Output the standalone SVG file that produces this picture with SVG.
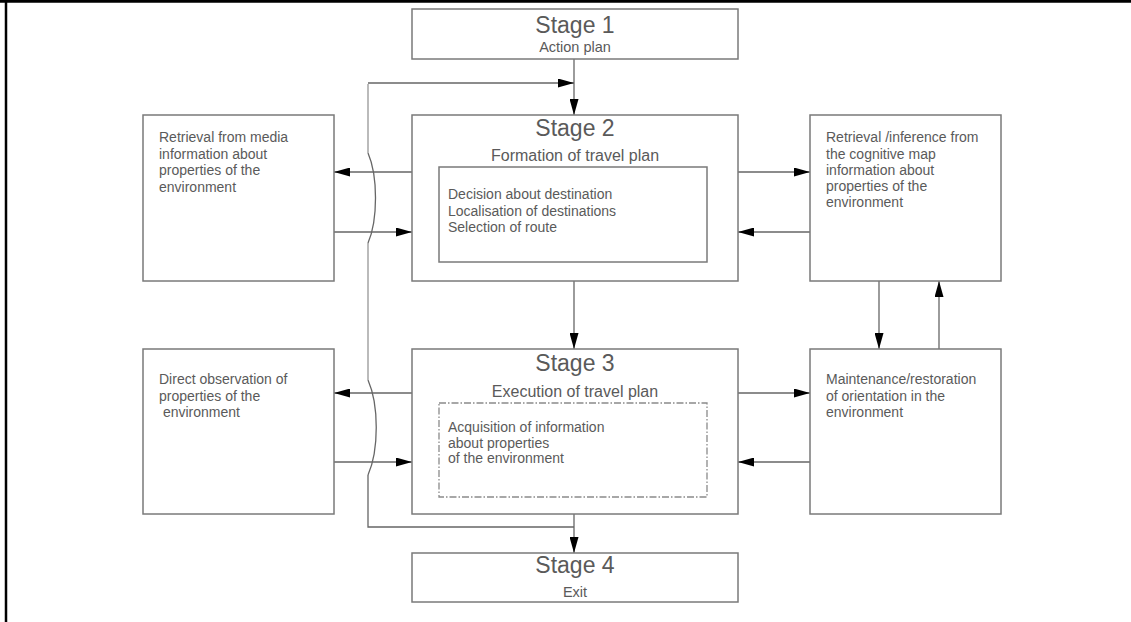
<svg xmlns="http://www.w3.org/2000/svg" width="1131" height="622" viewBox="0 0 1131 622">
<style>
.box{fill:#fff;stroke:#7a7a7a;stroke-width:1.5}
.inner{fill:none;stroke:#7a7a7a;stroke-width:1.5}
.dash{fill:none;stroke:#8a8a8a;stroke-width:1.3;stroke-dasharray:7,2,1.5,2}
.ln{fill:none;stroke:#666;stroke-width:1.3}
.lt{fill:none;stroke:#bbb;stroke-width:2}
.t{font-family:"Liberation Sans",Arial,sans-serif;fill:#5a5a5a}
.h{font-size:23px;text-anchor:middle}
.s{font-size:16px;text-anchor:middle}
.s2{font-size:14.5px;text-anchor:middle}
.b{font-size:14px}
</style>
<defs>
<marker id="ah" markerUnits="userSpaceOnUse" viewBox="0 0 16 9" refX="16" refY="4.5" markerWidth="16" markerHeight="9" orient="auto">
<path d="M0,0 L16,4.5 L0,9 z" fill="#000"/>
</marker>
</defs>
<g id="frame">
<path d="M0,1.3 H1131" stroke="#000" stroke-width="2.7"/>
<path d="M6,0 V622" stroke="#000" stroke-width="2.5"/>
</g>
<g id="connectors">
<path class="ln" d="M574,59 V115" marker-end="url(#ah)"/>
<path class="ln" d="M574,527 H368 V475"/>
<path class="ln" d="M368,475 C379,450 379,405 368,380"/>
<path class="lt" d="M368,380 V243"/>
<path class="ln" d="M368,243 C378,220 378,176 368,153"/>
<path class="lt" d="M368,153 V84"/>
<path class="ln" d="M368,83 H574" marker-end="url(#ah)"/>
<path class="ln" d="M412,172 H334" marker-end="url(#ah)"/>
<path class="ln" d="M334,232 H412" marker-end="url(#ah)"/>
<path class="ln" d="M738,172 H810" marker-end="url(#ah)"/>
<path class="ln" d="M810,232 H738" marker-end="url(#ah)"/>
<path class="ln" d="M574,281 V349" marker-end="url(#ah)"/>
<path class="ln" d="M412,393 H334" marker-end="url(#ah)"/>
<path class="ln" d="M334,462 H412" marker-end="url(#ah)"/>
<path class="ln" d="M738,393 H810" marker-end="url(#ah)"/>
<path class="ln" d="M810,462 H738" marker-end="url(#ah)"/>
<path class="ln" d="M879,281 V349" marker-end="url(#ah)"/>
<path class="ln" d="M939,349 V281" marker-end="url(#ah)"/>
<path class="ln" d="M574,514 V553" marker-end="url(#ah)"/>
</g>
<g id="stage1">
<rect class="box" x="412" y="9" width="326" height="50"/>
<text class="t h" x="575" y="33">Stage 1</text>
<text class="t s2" x="575" y="52">Action plan</text>
</g>
<g id="stage2">
<rect class="box" x="412" y="115" width="326" height="166"/>
<text class="t h" x="575" y="136">Stage 2</text>
<text class="t s" x="575" y="161">Formation of travel plan</text>
<rect class="inner" x="439" y="167" width="268" height="95"/>
<text class="t b" x="448" y="199">Decision about destination</text>
<text class="t b" x="448" y="215.5">Localisation of destinations</text>
<text class="t b" x="448" y="232">Selection of route</text>
</g>
<g id="stage3">
<rect class="box" x="412" y="349" width="326" height="165"/>
<text class="t h" x="575" y="371">Stage 3</text>
<text class="t s" x="575" y="397">Execution of travel plan</text>
<rect class="dash" x="439" y="403" width="268" height="94"/>
<text class="t b" x="448" y="432">Acquisition of information</text>
<text class="t b" x="448" y="447.5">about properties</text>
<text class="t b" x="448" y="463">of the environment</text>
</g>
<g id="stage4">
<rect class="box" x="412" y="553" width="326" height="49"/>
<text class="t h" x="575" y="573">Stage 4</text>
<text class="t s2" x="575" y="597">Exit</text>
</g>
<g id="media">
<rect class="box" x="143" y="115" width="191" height="166"/>
<text class="t b" x="159" y="142">Retrieval from media</text>
<text class="t b" x="159" y="158.5">information about</text>
<text class="t b" x="159" y="175">properties of the</text>
<text class="t b" x="159" y="191.5">environment</text>
</g>
<g id="observation">
<rect class="box" x="143" y="349" width="191" height="165"/>
<text class="t b" x="159" y="384">Direct observation of</text>
<text class="t b" x="159" y="400.5">properties of the</text>
<text class="t b" x="159" y="417" xml:space="preserve"> environment</text>
</g>
<g id="cognitive">
<rect class="box" x="810" y="115" width="191" height="166"/>
<text class="t b" x="826" y="142">Retrieval /inference from</text>
<text class="t b" x="826" y="158.5">the cognitive map</text>
<text class="t b" x="826" y="174.5">information about</text>
<text class="t b" x="826" y="191">properties of the</text>
<text class="t b" x="826" y="207">environment</text>
</g>
<g id="orientation">
<rect class="box" x="810" y="349" width="191" height="165"/>
<text class="t b" x="826" y="384">Maintenance/restoration</text>
<text class="t b" x="826" y="400.5">of orientation in the</text>
<text class="t b" x="826" y="417">environment</text>
</g>
</svg>
